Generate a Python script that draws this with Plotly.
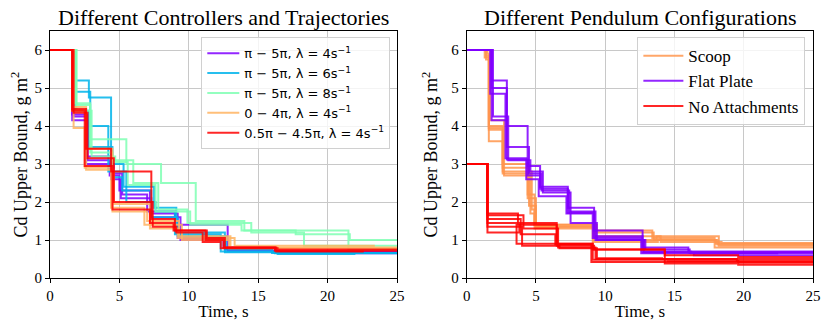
import plotly.graph_objects as go

# step runs: change times and the bound value held from each time
# left panel: controllers / trajectories
purple_t = [[0, 1.6, 2.7, 4.3, 5.0, 7.2, 9.2, 12.6, 16.0, 25],
            [0, 1.6, 2.7, 4.4, 5.1, 7.3, 9.4, 12.5, 16.2, 25],
            [0, 1.7, 2.6, 4.6, 5.2, 7.0, 9.0, 12.8, 16.5, 25]]
purple_v = [[6, 4.3, 3.1, 2.7, 2.3, 1.7, 1.05, 0.75, 0.68, 0.68],
            [6, 4.15, 3.2, 2.6, 2.1, 1.6, 1.0, 0.8, 0.7, 0.7],
            [6, 4.25, 3.0, 2.75, 2.2, 1.75, 1.4, 0.72, 0.65, 0.65]]
blue_t = [[0, 1.6, 2.8, 4.4, 5.3, 7.5, 9.1, 12.6, 16.2, 25],
          [0, 1.7, 2.9, 4.2, 5.5, 7.6, 9.0, 12.3, 16.4, 22.0],
          [0, 1.8, 2.8, 4.5, 5.2, 7.3, 9.2, 12.7, 16.0, 25]]
blue_v = [[6, 5.2, 4.75, 3.0, 2.4, 1.85, 1.2, 0.68, 0.65, 0.65],
          [6, 4.9, 4.0, 2.8, 2.0, 1.75, 1.15, 0.7, 0.63, 0.63],
          [6, 4.4, 3.45, 2.65, 2.3, 1.6, 1.1, 0.75, 0.66, 0.66]]
green_t = [[0, 1.9, 2.9, 5.5, 8.0, 10.5, 14.0, 17.7, 21.6, 25],
           [0, 1.8, 2.9, 4.5, 6.0, 7.8, 9.9, 14.5, 18.3, 25],
           [0, 1.9, 3.0, 4.7, 5.6, 7.6, 10.1, 13.8, 21.5, 25]]
green_v = [[6, 4.55, 3.65, 3.0, 2.5, 1.5, 1.25, 1.15, 1.0, 1.0],
           [6, 4.6, 3.3, 3.1, 2.5, 1.8, 1.45, 1.2, 0.85, 0.85],
           [6, 4.4, 3.2, 3.05, 2.45, 1.75, 1.4, 1.25, 0.75, 0.75]]
orange_t = [[0, 1.6, 2.6, 4.5, 7.0, 9.3, 13.0, 25],
            [0, 1.6, 2.6, 4.6, 7.2, 9.2, 13.3, 23.4],
            [0, 1.7, 2.5, 4.4, 6.8, 9.5, 12.9, 25]]
orange_v = [[6, 4.5, 3.4, 1.75, 1.5, 1.1, 0.8, 0.8],
            [6, 4.4, 2.85, 1.95, 1.3, 1.05, 0.85, 0.85],
            [6, 3.95, 2.9, 1.85, 1.4, 1.0, 0.78, 0.78]]
red_t = [[0, 1.6, 2.6, 4.4, 7.3, 9.0, 11.2, 12.5, 16.3, 22.6],
         [0, 1.7, 2.7, 4.6, 7.4, 9.1, 11.0, 12.3, 16.4, 25],
         [0, 1.6, 2.5, 4.5, 7.2, 8.9, 11.3, 12.6, 16.2, 25]]
red_v = [[6, 4.45, 3.4, 2.8, 1.55, 1.25, 1.0, 0.8, 0.7, 0.7],
         [6, 4.35, 3.15, 2.0, 1.35, 1.2, 0.95, 0.78, 0.75, 0.75],
         [6, 4.4, 2.95, 1.8, 1.45, 1.25, 1.05, 0.8, 0.72, 0.72]]

# right panel: pendulum configurations
scoop_t = [[0, 1.3, 1.6, 2.6, 4.4, 4.9, 9.3, 13.5, 18.0, 25],
           [0, 1.5, 1.6, 2.6, 4.5, 5.0, 9.2, 13.7, 18.2, 25],
           [0, 1.4, 1.6, 2.6, 4.6, 4.9, 9.4, 13.4, 17.9, 25],
           [0, 1.3, 1.7, 2.7, 4.4, 5.0, 9.1, 13.8, 18.1, 25],
           [0, 1.4, 1.6, 2.6, 4.7, 4.9, 9.3, 14.0, 18.4, 25]]
scoop_v = [[6, 5.8, 4.0, 3.0, 2.2, 1.4, 1.2, 1.0, 0.9, 0.9],
           [6, 5.9, 3.95, 2.9, 1.9, 1.35, 1.0, 1.1, 0.85, 0.85],
           [6, 5.75, 3.6, 2.75, 1.7, 1.4, 1.25, 1.05, 0.8, 0.8],
           [6, 6.0, 4.15, 2.7, 2.1, 1.35, 0.95, 1.0, 0.88, 0.88],
           [6, 5.85, 3.9, 2.8, 1.8, 1.3, 1.1, 0.95, 0.92, 0.92]]
plate_t = [[0, 1.8, 2.9, 4.4, 5.3, 7.3, 9.2, 12.7, 16.0, 25],
           [0, 1.8, 2.9, 4.5, 5.4, 7.4, 9.3, 12.8, 16.2, 22.5],
           [0, 1.7, 2.8, 4.3, 5.2, 7.2, 9.1, 12.6, 16.4, 25],
           [0, 1.9, 3.0, 4.6, 5.5, 7.5, 9.4, 12.9, 16.1, 25],
           [0, 1.8, 2.9, 4.4, 5.3, 7.3, 9.2, 12.7, 16.3, 25]]
plate_v = [[6, 5.2, 4.0, 2.95, 2.4, 1.85, 1.25, 0.8, 0.68, 0.68],
           [6, 5.0, 3.45, 2.75, 2.3, 1.75, 1.0, 0.7, 0.65, 0.65],
           [6, 4.85, 3.15, 2.6, 2.15, 1.7, 1.05, 0.65, 0.6, 0.6],
           [6, 4.25, 3.1, 2.8, 2.25, 1.45, 1.0, 0.75, 0.66, 0.66],
           [6, 4.15, 3.12, 2.7, 2.35, 1.72, 1.1, 0.68, 0.7, 0.7]]
none_t = [[0, 1.5, 3.7, 6.5, 9.1, 14.3, 19.6, 25],
          [0, 1.5, 4.1, 6.6, 9.3, 14.2, 19.5, 25],
          [0, 1.5, 3.9, 6.4, 9.0, 14.4, 19.7, 25],
          [0, 1.5, 3.6, 6.5, 9.2, 14.3, 19.6, 25],
          [0, 1.5, 4.0, 6.7, 9.4, 14.1, 19.5, 25],
          [0, 1.5, 3.8, 6.5, 9.1, 14.5, 19.6, 25]]
none_v = [[3, 1.7, 1.4, 0.9, 0.75, 0.6, 0.55, 0.55],
          [3, 1.65, 1.3, 0.8, 0.5, 0.5, 0.45, 0.45],
          [3, 1.55, 1.15, 0.88, 0.42, 0.42, 0.4, 0.4],
          [3, 1.45, 0.9, 0.85, 0.75, 0.38, 0.35, 0.35],
          [3, 1.35, 0.85, 0.78, 0.52, 0.5, 0.5, 0.5],
          [3, 1.2, 1.45, 0.9, 0.48, 0.45, 0.42, 0.42]]

left_names = ["π − 5π, λ = 4s<sup>−1</sup>", "π − 5π, λ = 6s<sup>−1</sup>",
              "π − 5π, λ = 8s<sup>−1</sup>", "0 − 4π, λ = 4s<sup>−1</sup>",
              "0.5π − 4.5π, λ = 4s<sup>−1</sup>"]
left_colors = ["#8000ff", "#00b4eb", "#80ffb4", "#ffb462", "#ff0000"]
left_groups = [(purple_t, purple_v), (blue_t, blue_v), (green_t, green_v),
               (orange_t, orange_v), (red_t, red_v)]

right_names = ["Scoop", "Flat Plate", "No Attachments"]
right_colors = ["#ff964f", "#8000ff", "#ff0000"]
right_groups = [(scoop_t, scoop_v), (plate_t, plate_v), (none_t, none_v)]

fig = go.Figure()

for name, color, (ts, vs) in zip(left_names, left_colors, left_groups):
    for i, (t, v) in enumerate(zip(ts, vs)):
        fig.add_trace(go.Scatter(
            x=t, y=v, mode="lines", line=dict(color=color, width=2, shape="hv"),
            opacity=0.85, name=name, legendgroup=name, showlegend=(i == 0),
            xaxis="x", yaxis="y", legend="legend"))

for name, color, (ts, vs) in zip(right_names, right_colors, right_groups):
    for i, (t, v) in enumerate(zip(ts, vs)):
        fig.add_trace(go.Scatter(
            x=t, y=v, mode="lines", line=dict(color=color, width=2, shape="hv"),
            opacity=0.85, name=name, legendgroup=name, showlegend=(i == 0),
            xaxis="x2", yaxis="y2", legend="legend2"))

serif = "Liberation Serif"
axis_common = dict(showline=True, linecolor="black", linewidth=1, mirror=True,
                   showgrid=True, gridcolor="#c8c8c8", gridwidth=1, zeroline=False,
                   ticks="outside", ticklen=4, tickcolor="black", automargin=False,
                   tickfont=dict(family=serif, size=15, color="black"))
xtitle_font = dict(family=serif, size=17, color="black")
ytitle_font = dict(family=serif, size=18, color="black")

# the page body adds an 8px offset, so the figure is drawn 8px smaller
fig.update_layout(
    width=822, height=323,
    margin=dict(l=42, r=17, t=23, b=53),
    plot_bgcolor="white", paper_bgcolor="white",
    xaxis=dict(domain=[0, 0.4548], range=[0, 25], tickvals=[0, 5, 10, 15, 20, 25],
               title=dict(text="Time, s", font=xtitle_font, standoff=2),
               **axis_common),
    yaxis=dict(range=[0, 6.5], tickvals=[0, 1, 2, 3, 4, 5, 6],
               title=dict(text="Cd Upper Bound, g m<sup>2</sup>", font=ytitle_font, standoff=8),
               **axis_common),
    xaxis2=dict(domain=[0.5461, 1], range=[0, 25], tickvals=[0, 5, 10, 15, 20, 25], anchor="y2",
                title=dict(text="Time, s", font=xtitle_font, standoff=2),
                **axis_common),
    yaxis2=dict(range=[0, 6.5], tickvals=[0, 1, 2, 3, 4, 5, 6], anchor="x2",
                title=dict(text="Cd Upper Bound, g m<sup>2</sup>", font=ytitle_font, standoff=8),
                **axis_common),
    legend=dict(x=0.446, y=0.975, xanchor="right", yanchor="top",
                bgcolor="rgba(255,255,255,0.8)", bordercolor="#d0d0d0", borderwidth=1,
                font=dict(family="DejaVu Sans", size=13, color="black"),
                tracegroupgap=0, itemwidth=32),
    legend2=dict(x=0.99, y=0.975, xanchor="right", yanchor="top",
                 bgcolor="rgba(255,255,255,0.8)", bordercolor="#d0d0d0", borderwidth=1,
                 font=dict(family=serif, size=17, color="black"),
                 tracegroupgap=0, itemwidth=40),
    annotations=[
        dict(text="Different Controllers and Trajectories", x=0.2274, y=1.0, xref="paper", yref="paper",
             xanchor="center", yanchor="bottom", yshift=-1, showarrow=False,
             font=dict(family=serif, size=22, color="black")),
        dict(text="Different Pendulum Configurations", x=0.773, y=1.0, xref="paper", yref="paper",
             xanchor="center", yanchor="bottom", yshift=-1, showarrow=False,
             font=dict(family=serif, size=22, color="black")),
    ],
)

fig.write_html("out.html")
